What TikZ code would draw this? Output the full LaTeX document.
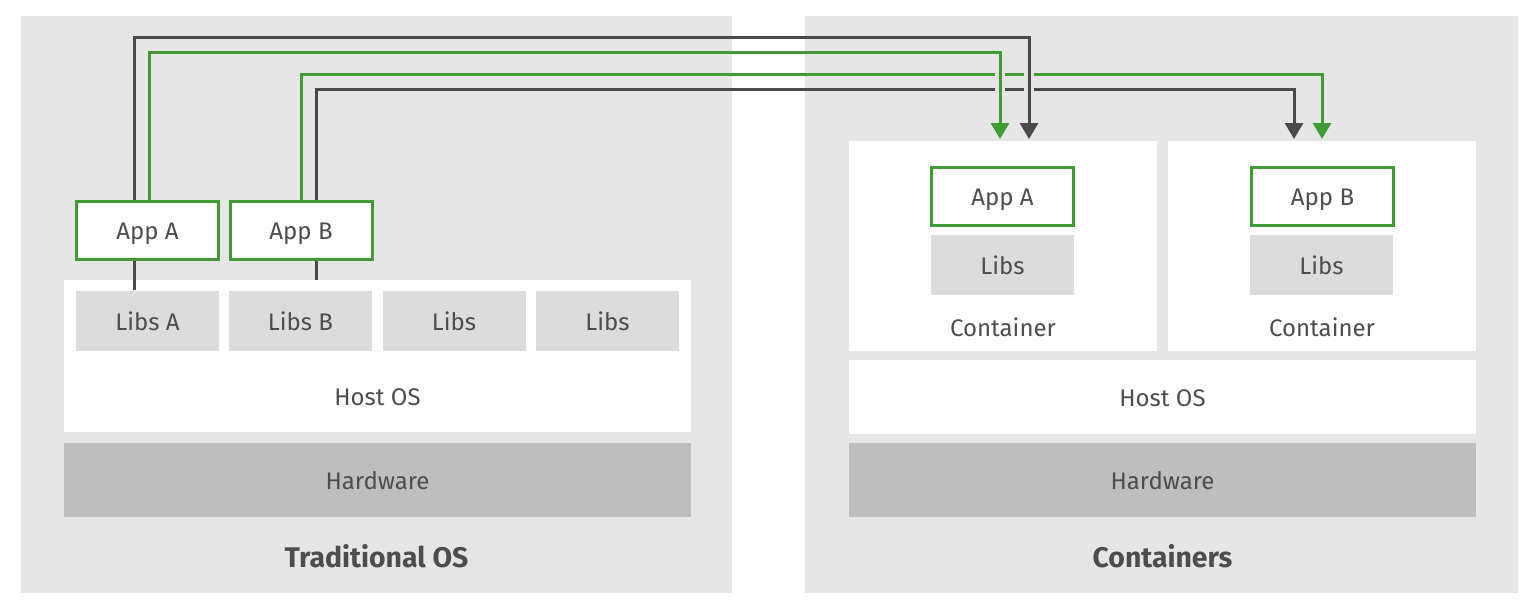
\documentclass[tikz,border=0pt]{standalone}
\usepackage{fontspec}
\setmainfont{Fira Sans}
\usetikzlibrary{arrows.meta}
\definecolor{panelgray}{HTML}{E6E6E6}
\definecolor{libgray}{HTML}{DCDCDC}
\definecolor{hwgray}{HTML}{BEBEBE}
\definecolor{rhgreen}{HTML}{3F9C35}
\definecolor{linedark}{HTML}{4A4A4A}
\definecolor{textdark}{HTML}{4D4D4D}

\begin{document}
\begin{tikzpicture}[
    x=0.5pt, y=-0.5pt,
    every node/.append style={font=\fontsize{12}{14}\selectfont, text=textdark, inner sep=0pt,
        text height=0.95em, text depth=0pt},
    % boxes
    panel/.style={fill=panelgray, minimum width=#1, minimum height=288.5pt},
    hostbox/.style={fill=white, minimum width=313.5pt, minimum height=#1},
    libbox/.style={fill=libgray, minimum width=71.5pt, minimum height=30pt},
    hwbox/.style={fill=hwgray, minimum width=313.5pt, minimum height=37pt},
    appbox/.style={draw=rhgreen, line width=1.5pt, fill=white, minimum width=71pt, minimum height=29pt},
    ctrbox/.style={fill=white, minimum width=154pt, minimum height=105pt},
    paneltitle/.style={font=\fontsize{14.2}{17}\selectfont\bfseries},
    % connectors
    link/.style={line width=1.5pt, -{Triangle[width=9pt,length=8pt]}},
    greenlink/.style={link, rhgreen},
    darklink/.style={link, linedark},
    stub/.style={line width=1.5pt, linedark},
    gap/.style={line width=5pt, panelgray},
]
\useasboundingbox (0,0) rectangle (1540,612);

% ========== Traditional OS ==========
\node[panel=355.5pt] (tradpanel) at (376.5,304.5) {};
\node[paneltitle] (tradtitle) at (376.5,558) {Traditional OS};
\node[hostbox=76pt] (hostl) at (377.5,356) {};
\node (hostltext) at (377.5,396) {Host OS};
\node[hwbox] (hwl) at (377.5,480) {Hardware};
\foreach \x/\name/\txt in {147.5/libsa/Libs A, 300.5/libsb/Libs B, 454/libsc/Libs, 607.5/libsd/Libs}
    \node[libbox] (\name) at (\x,320.5) {\txt};
\node[appbox] (appal) at (147.5,230) {App A};
\node[appbox] (appbl) at (301,230) {App B};

% App -> Libs / Host OS
\draw[stub] ([xshift=-6.75pt]appal.south) -- ([xshift=-6.75pt]appal.south |- libsa.north);
\draw[stub] ([xshift=7.5pt]appbl.south) -- ([xshift=7.5pt]appbl.south |- hostl.north);

% ========== Containers ==========
\node[panel=356.5pt] (ctrpanel) at (1161.5,304.5) {};
\node[paneltitle] (ctrtitle) at (1162.5,558) {Containers};
\node[ctrbox] (ctra) at (1003,246) {};
\node[ctrbox] (ctrb) at (1322,246) {};
\node (ctratext) at (1003,327) {Container};
\node (ctrbtext) at (1322,327) {Container};
\node[appbox] (appar) at (1002.5,196) {App A};
\node[appbox] (appbr) at (1322.5,196) {App B};
\node[libbox] (libsar) at (1002.5,264.5) {Libs};
\node[libbox] (libsbr) at (1321.5,264.5) {Libs};
\node[hostbox=37pt] (hostr) at (1162.5,397) {Host OS};
\node[hwbox] (hwr) at (1162.5,480) {Hardware};

% ========== Moving apps ==========
\coordinate (laned1) at (0,37.7);
\coordinate (laneg1) at (0,52.7);
\coordinate (laneg2) at (0,74);
\coordinate (laned2) at (0,89.3);
\coordinate (tipg1) at (1000,139);
\coordinate (tipd1) at (1029,139);
\coordinate (tipd2) at (1294,139);
\coordinate (tipg2) at (1322,139);

% App B
\draw[greenlink] (appbl.north) |- (laneg2 -| tipg2) -- (tipg2);
\draw[darklink] ([xshift=7.5pt]appbl.north) |- (laned2 -| tipd2) -- (tipd2);

% gaps where the App A lines cross
\draw[gap] (laneg1 -| tipg1) -- ([yshift=5pt]tipg1);
\draw[gap] (laned1 -| tipd1) -- ([yshift=5pt]tipd1);

% App A
\draw[greenlink] ([xshift=0.75pt]appal.north) |- (laneg1 -| tipg1) -- (tipg1);
\draw[darklink] ([xshift=-6.75pt]appal.north) |- (laned1 -| tipd1) -- (tipd1);

\end{tikzpicture}
\end{document}
